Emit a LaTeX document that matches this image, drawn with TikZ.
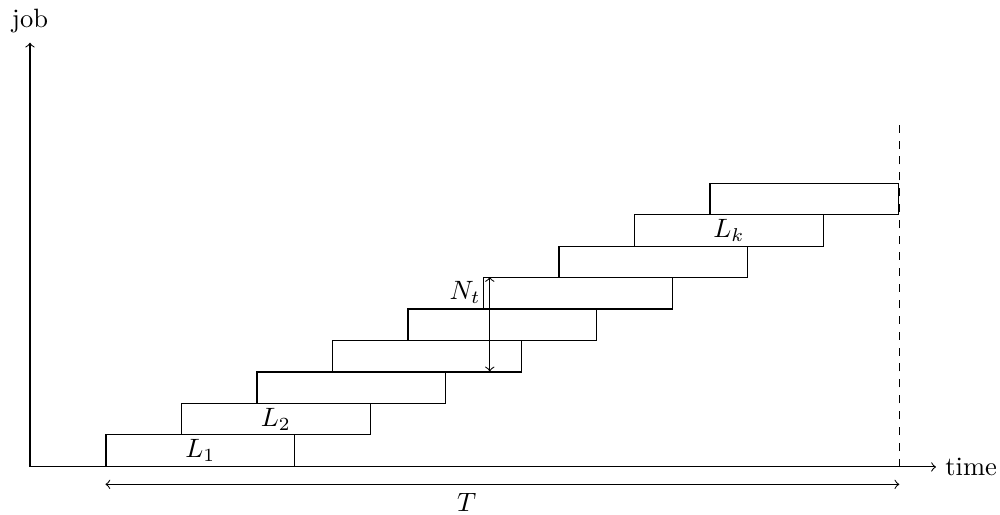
\documentclass[tikz,border=0pt]{standalone}
\usepackage{amsmath}
\usetikzlibrary{positioning,calc}

\begin{document}
\begin{tikzpicture}[
  jobbox/.style={draw, minimum width=2.5cm, minimum height=4.17mm,
                 inner sep=0pt, anchor=south west},
  axis/.style={->},
  span/.style={<->}
]
\useasboundingbox (-0.397,-0.636) rectangle (12.848,6.185);
% axes
\coordinate (o) at (0,0);
\coordinate (xend) at (12,0);
\coordinate (yend) at (0,5.62);
\draw[axis] (o) -- (xend) node[right] {time};
\draw[axis] (o) -- (yend) node[above] {job};
% jobs
\foreach \i/\lab in {0/$L_1$,1/$L_2$,2/,3/,4/,5/,6/,7/$L_k$,8/}
  \node[jobbox] (j\i) at (1+\i,0.417*\i) {\lab};
% horizon
\coordinate (hbot) at (j8.south east |- o);
\coordinate (htop) at ($(hbot)+(0,4.57)$);
\draw[dashed] (hbot) -- (htop);
% total time
\coordinate (tl) at ($(j0.south west)+(0,-0.23)$);
\coordinate (tr) at (hbot |- tl);
\draw[span] (tl) -- (tr) node[below, pos=0.455] {$T$};
% jobs in progress
\coordinate (nt) at ($(j5.north west)+(0.09,0)$);
\coordinate (nb) at (nt |- j2.north);
\draw[span] (nt) -- (nb) node[left, pos=0.16] {$N_t$};
\end{tikzpicture}
\end{document}
